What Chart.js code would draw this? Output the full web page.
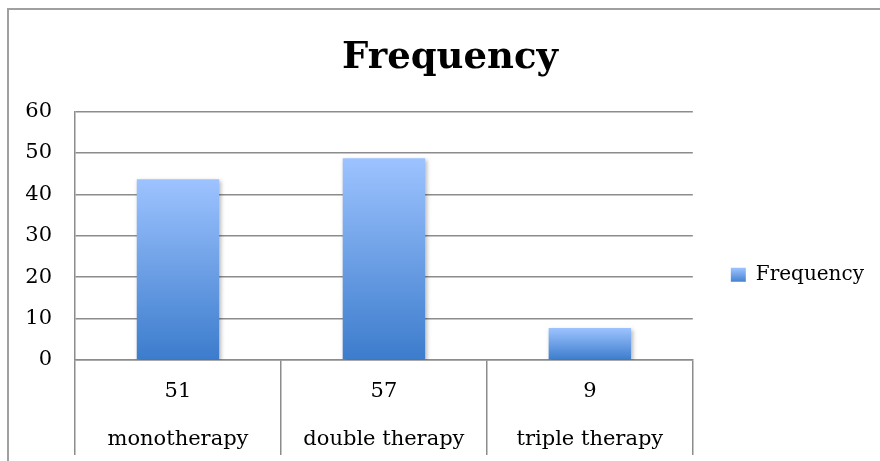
<!DOCTYPE html>
<html>
<head>
<meta charset="utf-8">
<script src="https://cdn.jsdelivr.net/npm/chart.js@4/dist/chart.umd.min.js"></script>
<style>
  html, body { margin: 0; padding: 0; background: #fff; overflow: hidden; }
  #chart { display: block; }
</style>
</head>
<body>
<canvas id="chart" width="880" height="461"></canvas>
<script>
const counts = ["51", "57", "9"];
const therapies = ["monotherapy", "double therapy", "triple therapy"];
const frequency = [43.6, 48.7, 7.7];
const yTicks = [0, 10, 20, 30, 40, 50, 60];

const canvas = document.getElementById("chart");
const labels = counts.map((c, i) => [c, therapies[i]]);
const gridGray = "#8c8c8c";
const serif = "'DejaVu Serif', serif";

// vertical gradient light blue -> darker blue, one per bar
function barFill(c) {
  const chart = c.chart;
  const ctx = chart.ctx;
  if (c.type !== "data" || !chart.scales.y) return "#6b9fe6";
  const y = chart.scales.y;
  const top = y.getPixelForValue(c.raw);
  const base = y.getPixelForValue(0);
  const g = ctx.createLinearGradient(0, top, 0, base);
  g.addColorStop(0, "#9dc3ff");
  g.addColorStop(1, "#3c7ccc");
  return g;
}

// outer frame: only the top and left edges are inside the canvas
const frame = {
  id: "frame",
  beforeDraw(chart) {
    const ctx = chart.ctx;
    ctx.save();
    ctx.fillStyle = "#fff";
    ctx.fillRect(0, 0, chart.width, chart.height);
    ctx.strokeStyle = "#a0a0a0";
    ctx.lineWidth = 2;
    ctx.beginPath();
    ctx.moveTo(8, chart.height);
    ctx.lineTo(8, 9);
    ctx.lineTo(chart.width, 9);
    ctx.stroke();
    ctx.restore();
  }
};

// soft drop shadow under the bars
const barShadow = {
  id: "barShadow",
  beforeDatasetsDraw(chart) {
    const ctx = chart.ctx;
    ctx.save();
    ctx.shadowColor = "rgba(0,0,0,0.28)";
    ctx.shadowBlur = 4;
    ctx.shadowOffsetX = 1.5;
    ctx.shadowOffsetY = 1.5;
  },
  afterDatasetsDraw(chart) {
    chart.ctx.restore();
  }
};

new Chart(canvas, {
  type: "bar",
  data: {
    labels: labels,
    datasets: [{
      label: "Frequency",
      data: frequency,
      backgroundColor: barFill,
      borderWidth: 0,
      categoryPercentage: 0.8,
      barPercentage: 0.5
    }]
  },
  options: {
    responsive: false,
    animation: false,
    layout: { padding: { left: 26, right: 6, top: 0, bottom: 0 } },
    plugins: {
      title: {
        display: true,
        text: "Frequency",
        color: "#000",
        font: { family: serif, size: 37, weight: "bold", lineHeight: 1.2 },
        padding: { top: 36, bottom: 31 }
      },
      legend: {
        position: "right",
        title: { display: true, text: "", padding: { top: 74, bottom: 0 } },
        labels: {
          boxWidth: 15,
          boxHeight: 14,
          padding: 38,
          color: "#000",
          font: { family: serif, size: 20 },
          generateLabels(chart) {
            const g = chart.ctx.createLinearGradient(0, 268, 0, 283);
            g.addColorStop(0, "#9dc3ff");
            g.addColorStop(1, "#3c7ccc");
            return [{
              text: chart.data.datasets[0].label,
              fillStyle: g,
              strokeStyle: "rgba(0,0,0,0)",
              lineWidth: 0,
              fontColor: "#000",
              datasetIndex: 0
            }];
          }
        }
      },
      tooltip: { enabled: false }
    },
    scales: {
      x: {
        afterFit(s) { s.height = 101; },
        grid: {
          color: gridGray,
          lineWidth: 1.5,
          drawOnChartArea: false,
          drawTicks: true,
          tickLength: 95
        },
        border: { display: true, color: gridGray, width: 1.5 },
        ticks: {
          color: "#000",
          padding: -87,
          maxRotation: 0,
          font: { family: serif, size: 21, lineHeight: 48 / 21 }
        }
      },
      y: {
        min: 0,
        max: 60,
        afterFit(s) { s.width = 49; },
        afterBuildTicks(s) { s.ticks = yTicks.map(v => ({ value: v })); },
        grid: { color: gridGray, lineWidth: 1.5, drawTicks: false },
        border: { display: true, color: gridGray, width: 1.5 },
        ticks: {
          color: "#000",
          padding: 23,
          font: { family: serif, size: 21 }
        }
      }
    }
  },
  plugins: [frame, barShadow]
});
</script>
</body>
</html>
